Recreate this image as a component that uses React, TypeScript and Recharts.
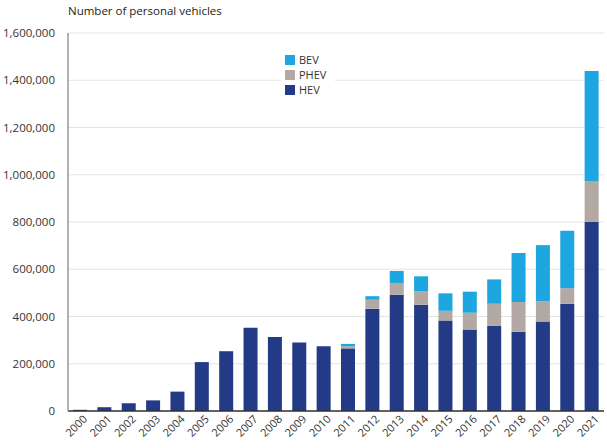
import { BarChart, Bar, XAxis, YAxis, CartesianGrid, Legend } from 'recharts';

const years = [
  '2000', '2001', '2002', '2003', '2004', '2005', '2006', '2007', '2008', '2009', '2010',
  '2011', '2012', '2013', '2014', '2015', '2016', '2017', '2018', '2019', '2020', '2021',
];

const hev = [
  5000, 16000, 33000, 45000, 82000, 207000, 253000, 352000, 313000, 290000, 274000,
  265000, 433000, 492000, 450000, 383000, 345000, 360000, 335000, 379000, 454000, 801000,
];

const phev = [
  0, 0, 0, 0, 0, 0, 0, 0, 0, 0, 0,
  9000, 38000, 50000, 56000, 41000, 71000, 94000, 126000, 86000, 66000, 173000,
];

const bev = [
  0, 0, 0, 0, 0, 0, 0, 0, 0, 0, 0,
  10000, 15000, 51000, 64000, 74000, 89000, 103000, 208000, 237000, 243000, 465000,
];

const yTicks = [0, 200000, 400000, 600000, 800000, 1000000, 1200000, 1400000, 1600000];

const legendOrder = ['BEV', 'PHEV', 'HEV'];

const COLORS = {
  HEV: '#233a86',
  PHEV: '#b3a9a4',
  BEV: '#1da6df',
};

const FONT = '"Open Sans", "Noto Sans", sans-serif';

const data = years.map((year, i) => ({
  year,
  HEV: hev[i],
  PHEV: phev[i],
  BEV: bev[i],
}));

const formatY = (v: number) => v.toLocaleString('en-US');

function LegendBox({ payload }: any) {
  const items = legendOrder
    .map((name) => (payload || []).find((p: any) => p.value === name))
    .filter(Boolean);
  return (
    <div
      style={{
        background: '#fff',
        padding: '1px 4px',
        fontFamily: FONT,
        fontSize: 11,
        color: '#333',
      }}
    >
      {items.map((item: any) => (
        <div key={item.value} style={{ display: 'flex', alignItems: 'center', height: 15 }}>
          <span style={{ width: 10, height: 10, background: item.color, marginRight: 4, display: 'inline-block' }} />
          <span style={{ lineHeight: '15px' }}>{item.value}</span>
        </div>
      ))}
    </div>
  );
}

const XTick = ({ x, y, payload }: any) => (
  <g transform={`translate(${x},${y})`}>
    <text
      x={5}
      y={6}
      textAnchor="end"
      transform="rotate(-45)"
      fill="#333"
      fontSize={11}
      fontFamily={FONT}
    >
      {payload.value}
    </text>
  </g>
);

export default function App() {
  return (
    <div style={{ position: 'absolute', left: 0, top: 0, width: 607, height: 448, background: '#fff' }}>
      <div
        style={{
          position: 'absolute',
          left: 68,
          top: 3,
          fontFamily: FONT,
          fontSize: 11.5,
          color: '#222',
        }}
      >
        Number of personal vehicles
      </div>
      <BarChart
        width={607}
        height={448}
        data={data}
        margin={{ top: 33, right: 3, left: 0, bottom: 0 }}
        barSize={14}
      >
        <CartesianGrid vertical={false} stroke="#e4e4e4" />
        <XAxis
          dataKey="year"
          height={37}
          interval={0}
          tickLine={false}
          axisLine={{ stroke: '#333', strokeWidth: 1.5 }}
          tick={<XTick />}
        />
        <YAxis
          width={68}
          domain={[0, 1600000]}
          ticks={yTicks}
          tickFormatter={formatY}
          tickLine={false}
          axisLine={{ stroke: '#999', strokeWidth: 1.5 }}
          tick={{ fill: '#333', fontSize: 11.5, fontFamily: FONT }}
          tickMargin={7}
        />
        <Legend
          layout="vertical"
          verticalAlign="middle"
          align="center"
          content={<LegendBox />}
          wrapperStyle={{ left: 281, top: 51, width: 54 }}
        />
        <Bar dataKey="HEV" stackId="a" fill={COLORS.HEV} isAnimationActive={false} />
        <Bar dataKey="PHEV" stackId="a" fill={COLORS.PHEV} isAnimationActive={false} />
        <Bar dataKey="BEV" stackId="a" fill={COLORS.BEV} isAnimationActive={false} />
      </BarChart>
    </div>
  );
}
